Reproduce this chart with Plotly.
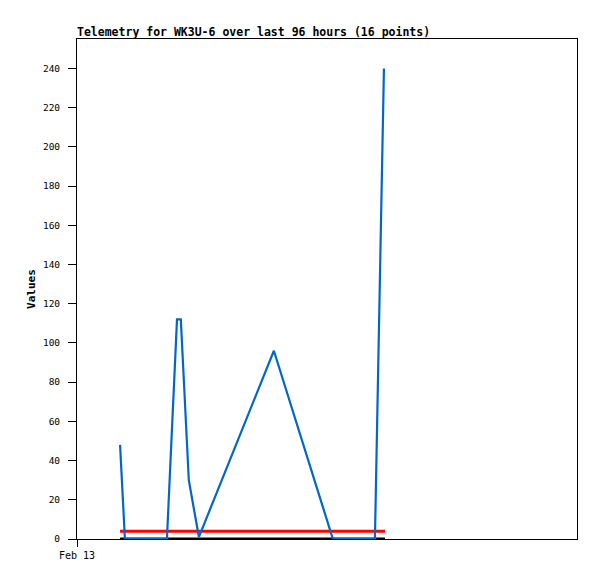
import plotly.graph_objects as go

times = [
    "2024-02-13 02:04", "2024-02-13 02:18", "2024-02-13 04:19",
    "2024-02-13 04:48", "2024-02-13 04:59", "2024-02-13 05:22",
    "2024-02-13 05:51", "2024-02-13 09:27", "2024-02-13 12:17",
    "2024-02-13 14:18", "2024-02-13 14:44",
]
values = [48, 0, 0, 112, 112, 30, 1, 96, 0, 0, 240]

limit_times = ["2024-02-13 02:04", "2024-02-13 14:47"]
upper_line = [4, 4]
lower_line = [0, 0]

mono = "DejaVu Sans Mono"

fig = go.Figure()

fig.add_trace(
    go.Scatter(
        x=limit_times,
        y=lower_line,
        mode="lines",
        line=dict(color="#000000", width=3),
        name="zero"
    )
)

fig.add_trace(
    go.Scatter(
        x=limit_times,
        y=upper_line,
        mode="lines",
        line=dict(color="#ff0000", width=3),
        name="limit"
    )
)

fig.add_trace(
    go.Scatter(
        x=times,
        y=values,
        mode="lines",
        line=dict(color="#0066cc", width=2.2),
        name="Values"
    )
)

# page body has an 8px margin, so shift the plot area up/left by that much
fig.update_layout(
    width=597,
    height=579,
    margin=dict(l=69, r=28, t=31, b=48),
    paper_bgcolor="white",
    plot_bgcolor="white",
    showlegend=False,
    font=dict(family=mono, size=10, color="#000000"),
    title=dict(
        text="<b>Telemetry for WK3U-6 over last 96 hours (16 points)</b>",
        x=69 / 597,
        xanchor="left",
        y=1 - 24 / 579,
        yanchor="middle",
        font=dict(family=mono, size=11.5)
    ),
    xaxis=dict(
        range=["2024-02-13 00:00", "2024-02-14 00:00"],
        tickvals=["2024-02-13 00:00"],
        ticktext=["Feb 13"],
        ticks="outside",
        ticklen=7,
        tickcolor="#000000",
        showgrid=False,
        zeroline=False,
        showline=True,
        linecolor="#000000",
        linewidth=1,
        mirror=True,
        tickfont=dict(family=mono, size=10)
    ),
    yaxis=dict(
        range=[0, 255],
        tickvals=list(range(0, 241, 20)),
        ticks="outside",
        ticklen=8,
        ticklabelstandoff=6,
        tickcolor="#000000",
        showgrid=False,
        zeroline=False,
        showline=True,
        linecolor="#000000",
        linewidth=1,
        mirror=True,
        tickfont=dict(family=mono, size=9.5),
        title=dict(
            text="<b>Values</b>",
            font=dict(family=mono, size=11),
            standoff=5
        )
    )
)

fig.write_html("out.html")
